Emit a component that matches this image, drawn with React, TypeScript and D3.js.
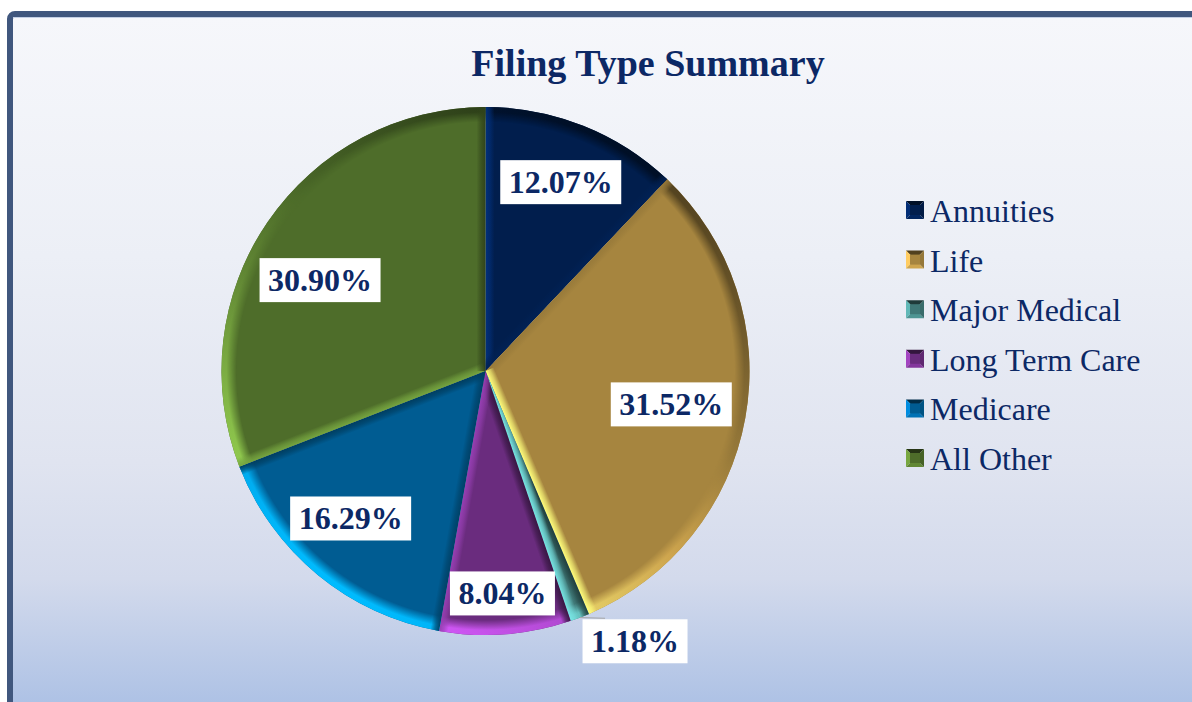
import React, { useEffect, useRef } from 'react';
import * as d3 from 'd3';

const categories = ['Annuities', 'Life', 'Major Medical', 'Long Term Care', 'Medicare', 'All Other'];
const values = [12.07, 31.52, 1.18, 8.04, 16.29, 30.9];
const labelTexts = ['12.07%', '31.52%', '1.18%', '8.04%', '16.29%', '30.90%'];
const sliceColors = ['#011E4D', '#A6853F', '#3F7877', '#6A2C7E', '#005C92', '#4E6D2A'];
const titleText = 'Filing Type Summary';

// label placement (best-fit style), as fraction of radius and angular shift in degrees
const labelRadiusFactor = [0.77, 0.715, 1.17, 0.845, 0.757, 0.715];
const labelAngleShift = [0, 0, -8, 0, 3, -5.6];

const W = 1192;
const H = 702;
const CX = 485.5;
const CY = 371;
const R = 264;
const RIM = 15;
const STRIP = 9;
const NAVY = '#0C2865';
const FONT = "'Liberation Serif', 'Times New Roman', Times, serif";

export default function App() {
  const ref = useRef<SVGSVGElement | null>(null);

  useEffect(() => {
    const svg = d3.select(ref.current);
    svg.selectAll('*').remove();
    const defs = svg.append('defs');

    // background gradient
    const bg = defs.append('linearGradient').attr('id', 'bg').attr('gradientUnits', 'userSpaceOnUse')
      .attr('x1', 0).attr('x2', 0).attr('y1', 17).attr('y2', H);
    [[0, '#F6F7FB'], [0.35, '#ECEFF6'], [0.65, '#E0E4F0'], [0.82, '#D3DAEC'], [1, '#AEC2E5']].forEach(([o, c]) =>
      bg.append('stop').attr('offset', o as number).attr('stop-color', c as string));

    svg.append('rect').attr('x', 10).attr('y', 14).attr('width', W + 40).attr('height', H + 40)
      .attr('rx', 5).attr('fill', 'url(#bg)').attr('stroke', '#40577E').attr('stroke-width', 6);
    svg.append('line').attr('x1', 13).attr('x2', W).attr('y1', 17.5).attr('y2', 17.5)
      .attr('stroke', '#C3CFE5').attr('stroke-width', 1);

    // title
    svg.append('text').attr('x', 648).attr('y', 76).attr('text-anchor', 'middle')
      .attr('font-family', FONT).attr('font-weight', 'bold').attr('font-size', 38)
      .attr('fill', NAVY).text(titleText);

    const pie = d3.pie<number>().sort(null).value((d) => d).startAngle(0).endAngle(2 * Math.PI);
    const arcs = pie(values);
    const arcFull = d3.arc<d3.PieArcDatum<number>>().innerRadius(0).outerRadius(R);
    const arcRim = d3.arc<d3.PieArcDatum<number>>().innerRadius(R - RIM).outerRadius(R);

    // rim mask (radial fade), local coordinates
    const rg2 = defs.append('radialGradient').attr('id', 'rimFadeLocal').attr('gradientUnits', 'userSpaceOnUse')
      .attr('cx', 0).attr('cy', 0).attr('r', R);
    rg2.append('stop').attr('offset', (R - RIM) / R).attr('stop-color', '#000');
    rg2.append('stop').attr('offset', (R - 5) / R).attr('stop-color', '#fff');
    rg2.append('stop').attr('offset', 1).attr('stop-color', '#fff');
    const mask2 = defs.append('mask').attr('id', 'rimMaskLocal').attr('maskUnits', 'userSpaceOnUse')
      .attr('x', -R - 5).attr('y', -R - 5).attr('width', 2 * R + 10).attr('height', 2 * R + 10);
    mask2.append('rect').attr('x', -R - 5).attr('y', -R - 5).attr('width', 2 * R + 10).attr('height', 2 * R + 10)
      .attr('fill', 'url(#rimFadeLocal)');

    const L = [-0.6, 0.8];
    const pieG = svg.append('g').attr('transform', `translate(${CX},${CY})`);

    const shade = (base: string, k: number) => {
      const c = d3.rgb(base);
      return k >= 0 ? c.brighter(k).formatHex() : c.darker(-k).formatHex();
    };

    arcs.forEach((a, i) => {
      const base = sliceColors[i];
      const path = arcFull(a) as string;
      defs.append('clipPath').attr('id', `clip${i}`).append('path')
        .attr('d', path).attr('transform', `translate(${CX},${CY})`);

      pieG.append('path').attr('d', path).attr('fill', base);

      // outer rim gradient
      const gid = `rim${i}`;
      const lg = defs.append('linearGradient').attr('id', gid).attr('gradientUnits', 'userSpaceOnUse')
        .attr('x1', R * 0.5).attr('y1', -R * 0.87).attr('x2', -R * 0.6).attr('y2', R * 0.8);
      lg.append('stop').attr('offset', 0).attr('stop-color', shade(base, -2));
      lg.append('stop').attr('offset', 0.38).attr('stop-color', shade(base, -0.25));
      lg.append('stop').attr('offset', 0.6).attr('stop-color', shade(base, 0.6));
      lg.append('stop').attr('offset', 1).attr('stop-color', shade(base, 2));
      pieG.append('path').attr('d', arcRim(a) as string).attr('fill', `url(#${gid})`).attr('mask', 'url(#rimMaskLocal)');

      // radial edge strips
      const edges: [number, number][] = [
        [a.startAngle, -1],
        [a.endAngle, 1],
      ];
      const stripG = svg.append('g').attr('clip-path', `url(#clip${i})`);
      edges.forEach(([ang, sgn], k) => {
        const dir = [Math.sin(ang), -Math.cos(ang)];
        const n = [sgn * Math.cos(ang), sgn * Math.sin(ang)]; // outward normal
        const inward = [-n[0], -n[1]];
        const dot = n[0] * L[0] + n[1] * L[1];
        const col = shade(base, dot * 2.2);
        const mx = CX + dir[0] * R * 0.5;
        const my = CY + dir[1] * R * 0.5;
        const sid = `strip${i}_${k}`;
        const sg = defs.append('linearGradient').attr('id', sid).attr('gradientUnits', 'userSpaceOnUse')
          .attr('x1', mx).attr('y1', my).attr('x2', mx + inward[0] * STRIP).attr('y2', my + inward[1] * STRIP);
        sg.append('stop').attr('offset', 0).attr('stop-color', col).attr('stop-opacity', 1);
        sg.append('stop').attr('offset', 0.5).attr('stop-color', col).attr('stop-opacity', 0.6);
        sg.append('stop').attr('offset', 1).attr('stop-color', col).attr('stop-opacity', 0);
        const p0 = [CX, CY];
        const p1 = [CX + dir[0] * (R + 2), CY + dir[1] * (R + 2)];
        const p2 = [p1[0] + inward[0] * STRIP, p1[1] + inward[1] * STRIP];
        const p3 = [p0[0] + inward[0] * STRIP, p0[1] + inward[1] * STRIP];
        stripG.append('path').attr('d', `M${p0}L${p1}L${p2}L${p3}Z`).attr('fill', `url(#${sid})`);
      });
    });

    // data labels
    arcs.forEach((a, i) => {
      const mid = (a.startAngle + a.endAngle) / 2 + (labelAngleShift[i] * Math.PI) / 180;
      const r = R * labelRadiusFactor[i];
      const x = CX + Math.sin(mid) * r;
      const y = CY - Math.cos(mid) * r;
      if (labelRadiusFactor[i] > 1) {
        const am = (a.startAngle + a.endAngle) / 2;
        const px = CX + Math.sin(am) * R;
        const py = CY - Math.cos(am) * R;
        svg.append('line').attr('x1', px).attr('y1', py)
          .attr('x2', x - 30).attr('y2', y - 23)
          .attr('stroke', '#A6A6A6').attr('stroke-width', 1);
      }
      const g = svg.append('g');
      const rect = g.append('rect').attr('fill', '#fff');
      const t = g.append('text').attr('x', x).attr('y', y).attr('text-anchor', 'middle')
        .attr('dominant-baseline', 'central').attr('font-family', FONT).attr('font-weight', 'bold')
        .attr('font-size', 32).attr('fill', NAVY).text(labelTexts[i]);
      const bb = (t.node() as SVGTextElement).getBBox();
      const bw = bb.width + 17;
      const bh = 44;
      rect.attr('x', x - bw / 2).attr('y', y - bh / 2).attr('width', bw).attr('height', bh);
    });

    // legend
    const lgG = svg.append('g');
    categories.forEach((c, i) => {
      const y = 210 + i * 49.6;
      const x = 906;
      const s = 18;
      const base = sliceColors[i];
      const cxm = x + s / 2;
      const cym = y;
      const t0 = y - s / 2;
      const b0 = y + s / 2;
      const tri = (pts: number[][], col: string) =>
        lgG.append('path').attr('d', `M${pts.map((p) => p.join(',')).join('L')}Z`).attr('fill', col);
      tri([[x, t0], [x + s, t0], [cxm, cym]], shade(base, -2));
      tri([[x, t0], [x, b0], [cxm, cym]], shade(base, 1.2));
      tri([[x, b0], [x + s, b0], [cxm, cym]], shade(base, 0.6));
      tri([[x + s, t0], [x + s, b0], [cxm, cym]], shade(base, -0.3));
      lgG.append('rect').attr('x', x + 4).attr('y', t0 + 4).attr('width', s - 8).attr('height', s - 8).attr('fill', base);
      lgG.append('text').attr('x', 930).attr('y', y + 1).attr('dominant-baseline', 'central')
        .attr('font-family', FONT).attr('font-size', 32).attr('fill', NAVY).text(c);
    });
  }, []);

  return (
    <svg ref={ref} width={W} height={H} style={{ position: 'absolute', left: 0, top: 0, display: 'block' }} />
  );
}
